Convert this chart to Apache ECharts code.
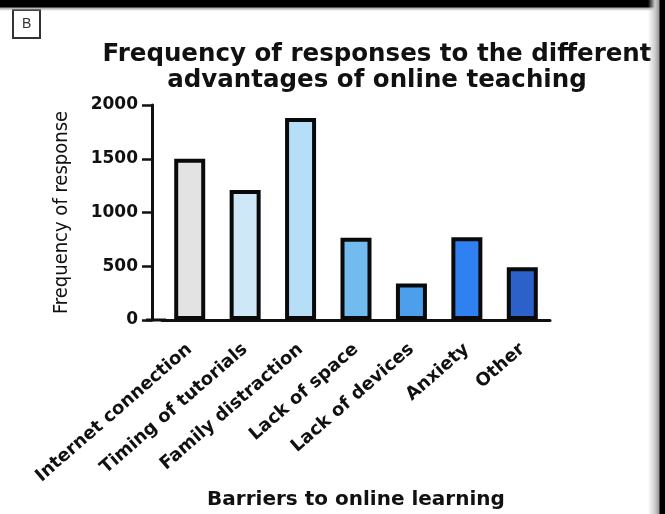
<!DOCTYPE html>
<html>
<head>
<meta charset="utf-8">
<script src="https://cdn.jsdelivr.net/npm/echarts@6/dist/echarts.min.js"></script>
<style>
  html, body { margin: 0; padding: 0; background: #fff; }
  #chart { position: absolute; left: 0; top: 0; width: 665px; height: 514px; background: #fff; }
  .band-top { position: absolute; left: 0; top: 0; width: 665px; height: 11px;
    background: linear-gradient(to bottom, #000 0, #000 7px, #aaa 8px, rgba(255,255,255,0) 11px); }
  .band-right { position: absolute; left: 648px; top: 0; width: 17px; height: 514px;
    background: linear-gradient(to right, rgba(255,255,255,0) 0, #ccc 7px, #999 11px, #000 12px, #000 17px); }
</style>
</head>
<body>
<div id="chart"></div>
<div class="band-top"></div>
<div class="band-right"></div>
<script>
var categories = ['Internet connection', 'Timing of tutorials', 'Family distraction',
	'Lack of space', 'Lack of devices', 'Anxiety', 'Other'];
var responses = [1500, 1210, 1880, 765, 340, 770, 490];
var barColors = ['#e3e3e3', '#cfe8f8', '#b6def6', '#71bbef', '#4b9feb', '#2f80f1', '#2b61c9'];
var yTicks = [0, 500, 1000, 1500, 2000];

var chart = echarts.init(document.getElementById('chart'));

var option = {
	animation: false,
	title: [
		{
			text: 'Frequency of responses to the different\nadvantages of online teaching',
			left: 372,
			top: 37,
			textAlign: 'center',
			textStyle: {
				fontFamily: 'DejaVu Sans',
				fontWeight: 'bold',
				fontSize: 24.5,
				lineHeight: 26,
				color: '#111'
			}
		},
		{
			text: 'B',
			left: 13,
			top: 10,
			padding: [7, 9, 7, 9],
			borderWidth: 2,
			borderColor: '#333',
			textStyle: {
				fontFamily: 'Liberation Sans',
				fontWeight: 'normal',
				fontSize: 14,
				color: '#333'
			}
		}
	],
	grid: {
		left: 162,
		right: 115,
		top: 105,
		bottom: 194
	},
	xAxis: {
		type: 'category',
		data: categories,
		name: 'Barriers to online learning',
		nameLocation: 'middle',
		nameGap: 170,
		nameTextStyle: {
			fontFamily: 'DejaVu Sans',
			fontWeight: 'bold',
			fontSize: 20,
			color: '#111'
		},
		axisLine: {
			symbol: ['rect', 'none'],
			symbolSize: [3, 20],
			symbolOffset: [-6, 0],
			lineStyle: { color: '#111', width: 3 }
		},
		axisTick: {
			alignWithLabel: true,
			length: 8,
			lineStyle: { color: '#111', width: 2.5 }
		},
		axisLabel: {
			interval: 0,
			rotate: 41,
			margin: 27,
			fontFamily: 'DejaVu Sans',
			fontWeight: 'bold',
			fontSize: 18,
			color: '#111'
		}
	},
	yAxis: {
		type: 'value',
		min: yTicks[0],
		max: yTicks[yTicks.length - 1],
		interval: 500,
		offset: 10,
		name: 'Frequency of response',
		nameLocation: 'middle',
		nameGap: 80,
		nameTextStyle: {
			fontFamily: 'DejaVu Sans Condensed',
			fontSize: 20,
			color: '#111'
		},
		splitLine: { show: false },
		axisLine: {
			show: true,
			lineStyle: { color: '#111', width: 3 }
		},
		axisTick: {
			show: true,
			length: 10,
			lineStyle: { color: '#111', width: 2.5 }
		},
		axisLabel: {
			margin: 14,
			fontFamily: 'DejaVu Sans',
			fontWeight: 'bold',
			fontSize: 17,
			color: '#111',
			formatter: function (v) { return String(v); }
		}
	},
	series: [
		{
			type: 'bar',
			barWidth: 31,
			data: responses.map(function (v, i) {
				return {
					value: v,
					itemStyle: { color: barColors[i] }
				};
			}),
			itemStyle: {
				borderColor: '#0a0a0a',
				borderWidth: 4
			}
		}
	]
};

chart.setOption(option);
</script>
</body>
</html>
